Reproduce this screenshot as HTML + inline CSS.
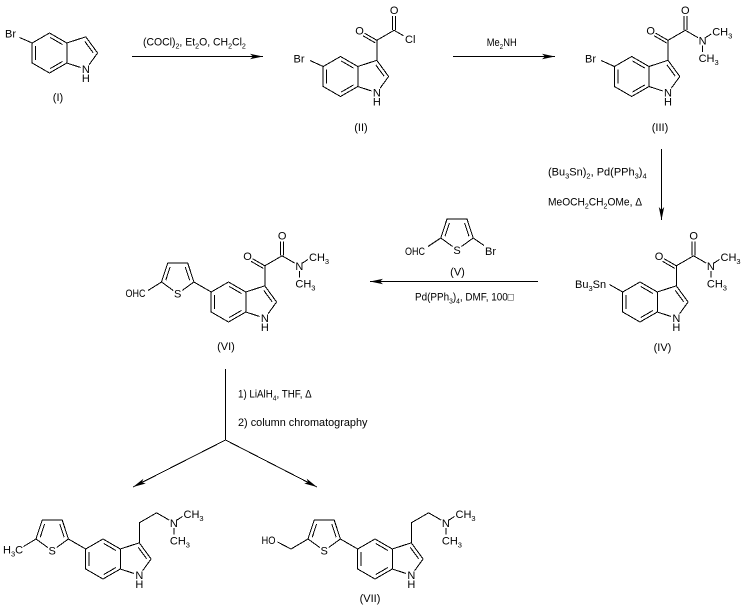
<!DOCTYPE html>
<html>
<head>
<meta charset="utf-8">
<style>
html,body{margin:0;padding:0;background:#fff;}
svg{display:block;}
.b{fill:none;stroke:#000;stroke-width:1;}
text{fill:#000;}
.s{font-size:7.5px;}
</style>
</head>
<body>
<svg width="748" height="610" viewBox="0 0 748 610" xmlns="http://www.w3.org/2000/svg" font-family="'Liberation Sans', Arial, sans-serif" font-size="11">
<defs>
<marker id="ah" viewBox="0 0 13 6" refX="13" refY="3" markerWidth="13" markerHeight="6" orient="auto" markerUnits="userSpaceOnUse"><path d="M0,0.3 L13,3 L0,5.7 L3,3 Z" fill="#000"/></marker>
<g id="ind" fill="none" stroke="#000" shape-rendering="crispEdges">
<path d="M0,-20 L17.3,-10 L17.3,10 L0,20 L-17.3,10 L-17.3,-10 Z M0.85,-15.47 L12.95,-8.47 M12.95,8.47 L0.85,15.47 M-13.8,-7 L-13.8,7 M17.3,-10 L36.3,-16.2 L48.1,0 L39.6,11.7 M17.3,10 L31.1,14.5 M35.2,-11.7 L43.5,-0.4"/>
</g>
<g id="amd" fill="none" stroke="#000" shape-rendering="crispEdges">
<path d="M36.3,-16.2 L36.3,-36.2 L53.6,-46.2 L66.2,-38.9 M36.3,-36.2 L24,-43.3 M34.8,-33.6 L22.5,-40.7 M52.1,-46.5 L52.1,-60.5 M55.1,-46.5 L55.1,-60.5 M74,-39 L79.5,-42.5 M70.9,-31 L70.9,-24.5"/>
</g>
<g id="chn" fill="none" stroke="#000" shape-rendering="crispEdges">
<path d="M36.3,-16.2 L36.3,-36.2 L53.6,-46.2 L66.2,-38.9 M74,-39 L79.5,-42.5 M70.9,-31 L70.9,-24.5"/>
</g>
<g id="thp" fill="none" stroke="#000" shape-rendering="crispEdges">
<path d="M-17.3,-10 L-34.6,-20 M-46.35,-11.5 L-34.6,-20 L-40.8,-39 L-60.8,-39 L-67,-20 L-55.25,-11.5 M-38.86,-21.76 L-43.2,-35.06 M-62.74,-21.76 L-58.4,-35.06"/>
</g>
</defs>

<!-- Arrows -->
<g fill="none" stroke="#000" stroke-width="1" shape-rendering="crispEdges">
<path d="M132,56.5 L263,56.5" marker-end="url(#ah)"/>
<path d="M453,56.5 L555,56.5" marker-end="url(#ah)"/>
<path d="M661.5,149 L661.5,220" marker-end="url(#ah)"/>
<path d="M538,281.5 L370,281.5" marker-end="url(#ah)"/>
<path d="M225.5,369 L225.5,440"/>
<path d="M225.5,440 L133,487" marker-end="url(#ah)"/>
<path d="M225.5,440 L317,487" marker-end="url(#ah)"/>
</g>

<!-- Reagent texts -->
<text transform="translate(143,45.5) scale(0.95,1)">(COCl)<tspan class="s" dy="3">2</tspan><tspan dy="-3">, Et</tspan><tspan class="s" dy="3">2</tspan><tspan dy="-3">O, CH</tspan><tspan class="s" dy="3">2</tspan><tspan dy="-3">Cl</tspan><tspan class="s" dy="3">2</tspan></text>
<text transform="translate(486.7,46) scale(0.85,1)">Me<tspan class="s" dy="3">2</tspan><tspan dy="-3">NH</tspan></text>
<text transform="translate(548,175.5)">(Bu<tspan class="s" dy="3">3</tspan><tspan dy="-3">Sn)</tspan><tspan class="s" dy="3">2</tspan><tspan dy="-3">, Pd(PPh</tspan><tspan class="s" dy="3">3</tspan><tspan dy="-3">)</tspan><tspan class="s" dy="3">4</tspan></text>
<text transform="translate(548,205.5) scale(0.93,1)">MeOCH<tspan class="s" dy="3">2</tspan><tspan dy="-3">CH</tspan><tspan class="s" dy="3">2</tspan><tspan dy="-3">OMe, Δ</tspan></text>
<text transform="translate(415,300.5) scale(0.9,1)">Pd(PPh<tspan class="s" dy="3">3</tspan><tspan dy="-3">)</tspan><tspan class="s" dy="3">4</tspan><tspan dy="-3">, DMF, 100□</tspan></text>
<text transform="translate(238,397.5) scale(0.89,1)">1) LiAlH<tspan class="s" dy="3">4</tspan><tspan dy="-3">, THF, Δ</tspan></text>
<text transform="translate(238,426) scale(0.99,1)">2) column chromatography</text>

<!-- Compound I -->
<g transform="translate(49.5,53)">
<use href="#ind"/>
<path class="b" shape-rendering="crispEdges" d="M-30,-15.5 L-17.3,-10"/>
<text x="-44.5" y="-15.5">Br</text>
<text x="36.3" y="20" text-anchor="middle">N</text>
<text x="36.3" y="29" text-anchor="middle">H</text>
</g>
<text x="58" y="101" text-anchor="middle">(I)</text>

<!-- Compound II -->
<g transform="translate(340.5,76.5)">
<use href="#ind"/>
<path class="b" shape-rendering="crispEdges" d="M-30.5,-16 L-17.3,-10 M36.3,-16.2 L36.3,-36.2 L53.6,-46.2 L63,-40.8 M36.3,-36.2 L24,-43.3 M34.8,-33.6 L22.5,-40.7 M52.1,-46.5 L52.1,-60.5 M55.1,-46.5 L55.1,-60.5"/>
<text x="-47" y="-14">Br</text>
<text x="36.3" y="20" text-anchor="middle">N</text>
<text x="36.3" y="29" text-anchor="middle">H</text>
<text x="19" y="-42" text-anchor="middle">O</text>
<text x="53.6" y="-62.5" text-anchor="middle">O</text>
<text x="64.5" y="-33.5">Cl</text>
</g>
<text x="361" y="131" text-anchor="middle">(II)</text>

<!-- Compound III -->
<g transform="translate(631.7,76.5)">
<use href="#ind"/>
<use href="#amd"/>
<path class="b" shape-rendering="crispEdges" d="M-30.5,-16 L-17.3,-10"/>
<text x="-46.7" y="-14">Br</text>
<text x="36.3" y="20" text-anchor="middle">N</text>
<text x="36.3" y="29" text-anchor="middle">H</text>
<text x="19" y="-42" text-anchor="middle">O</text>
<text x="53.6" y="-62.5" text-anchor="middle">O</text>
<text x="70.9" y="-32.2" text-anchor="middle">N</text>
<text x="80.5" y="-41">CH<tspan class="s" dy="3">3</tspan></text>
<text x="66.9" y="-14.5">CH<tspan class="s" dy="3">3</tspan></text>
</g>
<text x="660" y="131" text-anchor="middle">(III)</text>

<!-- Compound IV -->
<g transform="translate(640,302)">
<use href="#ind"/>
<use href="#amd"/>
<path class="b" shape-rendering="crispEdges" d="M-30.5,-17.5 L-17.3,-10"/>
<text x="-65" y="-14">Bu<tspan class="s" dy="3">3</tspan><tspan dy="-3">Sn</tspan></text>
<text x="36.3" y="20" text-anchor="middle">N</text>
<text x="36.3" y="29" text-anchor="middle">H</text>
<text x="19" y="-42" text-anchor="middle">O</text>
<text x="53.6" y="-62.5" text-anchor="middle">O</text>
<text x="70.9" y="-32.2" text-anchor="middle">N</text>
<text x="80.5" y="-41">CH<tspan class="s" dy="3">3</tspan></text>
<text x="66.9" y="-14.5">CH<tspan class="s" dy="3">3</tspan></text>
</g>
<text x="662.5" y="351" text-anchor="middle">(IV)</text>

<!-- Compound V -->
<path class="b" shape-rendering="crispEdges" d="M452.55,246.5 L440.8,238 L447,219 L467,219 L473.2,238 L461.45,246.5 M468.94,236.24 L464.6,222.94 M445.06,236.24 L449.4,222.94 M440.8,238 L428,246.5 M473.2,238 L484,245.5"/>
<text x="457" y="254" text-anchor="middle">S</text>
<text x="405" y="255" textLength="20" lengthAdjust="spacingAndGlyphs">OHC</text>
<text x="485" y="255">Br</text>
<text x="457.5" y="275.5" text-anchor="middle">(V)</text>

<!-- Compound VI -->
<g transform="translate(228.5,302)">
<use href="#ind"/>
<use href="#amd"/>
<use href="#thp"/>
<path class="b" shape-rendering="crispEdges" d="M-67,-20 L-80.5,-11.5"/>
<text x="-50.8" y="-4.3" text-anchor="middle">S</text>
<text x="-103" y="-4.8" textLength="20" lengthAdjust="spacingAndGlyphs">OHC</text>
<text x="36.3" y="20" text-anchor="middle">N</text>
<text x="36.3" y="29" text-anchor="middle">H</text>
<text x="19" y="-42" text-anchor="middle">O</text>
<text x="53.6" y="-62.5" text-anchor="middle">O</text>
<text x="70.9" y="-32.2" text-anchor="middle">N</text>
<text x="80.5" y="-41">CH<tspan class="s" dy="3">3</tspan></text>
<text x="66.9" y="-14.5">CH<tspan class="s" dy="3">3</tspan></text>
</g>
<text x="226" y="350" text-anchor="middle">(VI)</text>

<!-- Compound VIII (left bottom) -->
<g transform="translate(103,559)">
<use href="#ind"/>
<use href="#chn"/>
<use href="#thp"/>
<path class="b" shape-rendering="crispEdges" d="M-67,-20 L-79.5,-12.5"/>
<text x="-50.8" y="-4.3" text-anchor="middle">S</text>
<text x="-100" y="-5.5">H<tspan class="s" dy="3">3</tspan><tspan dy="-3">C</tspan></text>
<text x="36.3" y="20" text-anchor="middle">N</text>
<text x="36.3" y="29" text-anchor="middle">H</text>
<text x="70.9" y="-32.2" text-anchor="middle">N</text>
<text x="80.5" y="-41">CH<tspan class="s" dy="3">3</tspan></text>
<text x="66.9" y="-14.5">CH<tspan class="s" dy="3">3</tspan></text>
</g>

<!-- Compound VII -->
<g transform="translate(375,559)">
<use href="#ind"/>
<use href="#chn"/>
<use href="#thp"/>
<path class="b" shape-rendering="crispEdges" d="M-67,-20 L-84,-10 L-97.5,-17"/>
<text x="-50.8" y="-4.3" text-anchor="middle">S</text>
<text x="-113.5" y="-15" textLength="14" lengthAdjust="spacingAndGlyphs">HO</text>
<text x="36.3" y="20" text-anchor="middle">N</text>
<text x="36.3" y="29" text-anchor="middle">H</text>
<text x="70.9" y="-32.2" text-anchor="middle">N</text>
<text x="80.5" y="-41">CH<tspan class="s" dy="3">3</tspan></text>
<text x="66.9" y="-14.5">CH<tspan class="s" dy="3">3</tspan></text>
</g>
<text x="370" y="602" text-anchor="middle">(VII)</text>
</svg>
</body>
</html>
